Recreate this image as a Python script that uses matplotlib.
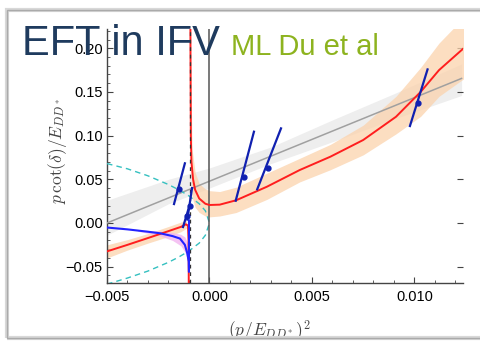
import numpy as np
import matplotlib.pyplot as plt
from matplotlib.patches import Rectangle

plt.rcParams['font.family'] = ['Liberation Sans', 'DejaVu Sans']
plt.rcParams['mathtext.fontset'] = 'cm'

# tick values / labels
xt_vals = [-0.005, 0.0, 0.005, 0.010]
xt_labels = ['\u22120.005', '0.000', '0.005', '0.010']
yt_vals = [-0.05, 0.0, 0.05, 0.10, 0.15, 0.20]
yt_labels = ['\u22120.05', '0.00', '0.05', '0.10', '0.15', '0.20']

# gray straight fit + its band
gray_x = [-0.005, 0.0123]
gray_y = [0.0, 0.1655]
gband_x = [-0.005, -0.002, 0.0, 0.003, 0.006, 0.009, 0.0123]
gband_lo = [-0.014, 0.022, 0.040, 0.068, 0.093, 0.119, 0.146]
gband_hi = [0.026, 0.050, 0.063, 0.087, 0.118, 0.148, 0.182]

# red curve, right branch (above the pole)
red_r_x = [-0.00093, -0.00091, -0.00088, -0.00080, -0.00070, -0.00050, -0.00020,
           0.0, 0.0005, 0.0013, 0.0028, 0.0044, 0.0059, 0.0075, 0.0091, 0.0103,
           0.0112, 0.0124]
red_r_y = [0.222, 0.10, 0.07, 0.05, 0.038, 0.028, 0.022,
           0.0206, 0.021, 0.026, 0.0415, 0.0606, 0.0759, 0.095, 0.1216, 0.150,
           0.175, 0.200]
oband_r_x = [-0.00093, -0.00085, -0.0007, -0.0005, -0.0002, 0.0, 0.0005, 0.0013,
             0.0028, 0.0044, 0.0059, 0.0075, 0.0091, 0.0103, 0.0112, 0.0124]
oband_r_lo = [0.09, 0.03, 0.018, 0.012, 0.008, 0.007, 0.008, 0.012,
              0.027, 0.047, 0.061, 0.078, 0.102, 0.122, 0.145, 0.165]
oband_r_hi = [0.20, 0.085, 0.058, 0.045, 0.039, 0.037, 0.036, 0.041,
              0.057, 0.074, 0.090, 0.112, 0.145, 0.178, 0.206, 0.235]

# red curve, left branch (below the pole)
red_l_x = [-0.0050, -0.0040, -0.0030, -0.0020, -0.0014, -0.00115, -0.00105,
           -0.00102, -0.00101]
red_l_y = [-0.0325, -0.025, -0.0172, -0.0093, -0.0045, -0.0015, -0.003,
           -0.02, -0.07]
oband_l_x = [-0.0050, -0.0040, -0.0030, -0.0020, -0.0014, -0.00112]
oband_l_lo = [-0.040, -0.031, -0.023, -0.0155, -0.010, -0.006]
oband_l_hi = [-0.025, -0.019, -0.012, -0.004, 0.001, 0.003]

# blue curve + pink band
blue_x = [-0.0050, -0.0040, -0.0030, -0.0024, -0.0018, -0.00144, -0.0012,
          -0.00108, -0.00101, -0.00100, -0.00100]
blue_y = [-0.0052, -0.0073, -0.0100, -0.0118, -0.0150, -0.0178, -0.025,
          -0.035, -0.044, -0.056, 0.003]
pband_x = [-0.0035, -0.0025, -0.0018, -0.0014, -0.0012, -0.00108, -0.00101]
pband_lo = [-0.0095, -0.014, -0.020, -0.026, -0.033, -0.043, -0.052]
pband_hi = [-0.0080, -0.009, -0.011, -0.013, -0.016, -0.022, -0.030]

# cyan dashed (upper / lower)
cyan_x = [-0.005, -0.004, -0.003, -0.002, -0.0015, -0.001, -0.0005, -0.0002, 0.0]
cyan_up = [0.068, 0.062, 0.054, 0.044, 0.038, 0.031, 0.022, 0.014, 0.0]
cyan_dn = [-0.070, -0.063, -0.055, -0.045, -0.039, -0.032, -0.023, -0.014, 0.0]

pole_x = -0.00096

# data points with slanted error segments
pts_x = [-0.00149, -0.00112, -0.00096, 0.0017, 0.00287, 0.01016]
pts_y = [0.0386, 0.008, 0.020, 0.0523, 0.0633, 0.137]
seg_x0 = [-0.00173, -0.00129, -0.00108, 0.00128, 0.00233, 0.00978]
seg_y0 = [0.0217, -0.0046, 0.004, 0.0255, 0.0386, 0.111]
seg_x1 = [-0.00120, -0.00100, -0.00085, 0.00217, 0.00349, 0.01064]
seg_y1 = [0.0683, 0.018, 0.040, 0.1045, 0.1083, 0.1758]

fig = plt.figure(figsize=(4.8, 3.48), dpi=100)
ax = fig.add_axes([0.2229, 0.186, 0.7417, 0.7305])

ax.fill_between(gband_x, gband_lo, gband_hi, color='#eeeeee', lw=0, zorder=1)
ax.fill_between(oband_r_x, oband_r_lo, oband_r_hi, color='#fbd3ad', alpha=0.75, lw=0, zorder=2)
ax.fill_between(oband_l_x, oband_l_lo, oband_l_hi, color='#fbd3ad', alpha=0.75, lw=0, zorder=2)
ax.fill_between(pband_x, pband_lo, pband_hi, color='#f3b4f0', alpha=0.8, lw=0, zorder=2)

ax.plot(gray_x, gray_y, color='#a0a0a0', lw=1.1, zorder=3)
ax.plot(cyan_x, cyan_up, color='#35c0c0', lw=1.0, ls=(0, (4, 3)), zorder=3)
ax.plot(cyan_x, cyan_dn, color='#35c0c0', lw=1.0, ls=(0, (4, 3)), zorder=3)

ax.axvline(0.0, color='#555555', lw=1.1, zorder=4)
ax.plot(red_r_x, red_r_y, color='#ff1e1e', lw=1.4, zorder=5)
ax.plot(red_l_x, red_l_y, color='#ff1e1e', lw=1.4, zorder=5)
ax.axvline(pole_x, color='#333333', lw=0.9, ls=(0, (3, 3)), zorder=5)
ax.plot(blue_x, blue_y, color='#2323ff', lw=1.5, zorder=6)

for i in range(len(pts_x)):
    ax.plot([seg_x0[i], seg_x1[i]], [seg_y0[i], seg_y1[i]], color='#1020b0', lw=1.6, zorder=7)
ax.plot(pts_x, pts_y, 'o', color='#1020b0', ms=3.5, zorder=8)

ax.set_xlim(-0.005, 0.01237)
ax.set_ylim(-0.069, 0.222)
ax.set_xticks(xt_vals, labels=xt_labels)
ax.set_yticks(yt_vals, labels=yt_labels)
ax.set_xticks(np.arange(-0.005, 0.0125, 0.001), minor=True)
ax.set_yticks(np.arange(-0.06, 0.221, 0.01), minor=True)
ax.tick_params(which='both', direction='in', color='#444444', labelsize=10.5)
ax.tick_params(which='major', length=4, width=0.8)
ax.tick_params(which='minor', length=2.5, width=0.6)
ax.tick_params(axis='y', pad=3)
ax.tick_params(axis='x', pad=5)
ax.tick_params(axis='y', which='major', right=True)
ax.spines['top'].set_visible(False)
ax.spines['right'].set_visible(False)
for s in ['left', 'bottom']:
    ax.spines[s].set_color('#444444')
    ax.spines[s].set_linewidth(1.0)

ax.text(-0.140, 0.52, r'$p\,\cot(\delta)/E_{DD^*}$', transform=ax.transAxes,
        rotation=90, ha='center', va='center', fontsize=12.5, color='#444444')
ax.text(0.455, -0.19, r'$(p/E_{DD^*})^2$', transform=ax.transAxes,
        ha='center', va='center', fontsize=12.5, color='#444444')

# slide frame
fig.add_artist(Rectangle((0, 0), 1, 10 / 348, transform=fig.transFigure,
                         facecolor='white', edgecolor='none', zorder=10))
fig.add_artist(Rectangle((7 / 480, 10 / 348), 1.1, 328 / 348, transform=fig.transFigure,
                         facecolor='none', edgecolor='#d8d8d8', lw=3.0, zorder=11))
fig.add_artist(Rectangle((7 / 480, 10 / 348), 1.1, 328 / 348, transform=fig.transFigure,
                         facecolor='none', edgecolor='#aaaaaa', lw=1.0, zorder=12))

fig.text(22 / 480, 1 - 55 / 348, 'EFT in IFV', fontsize=30, color='#1f3b5e',
         ha='left', va='baseline', zorder=20)
fig.text(231 / 480, 1 - 55 / 348, 'ML Du et al', fontsize=21, color='#8db31f',
         ha='left', va='baseline', zorder=20)

fig.savefig('out.png', dpi=100)
